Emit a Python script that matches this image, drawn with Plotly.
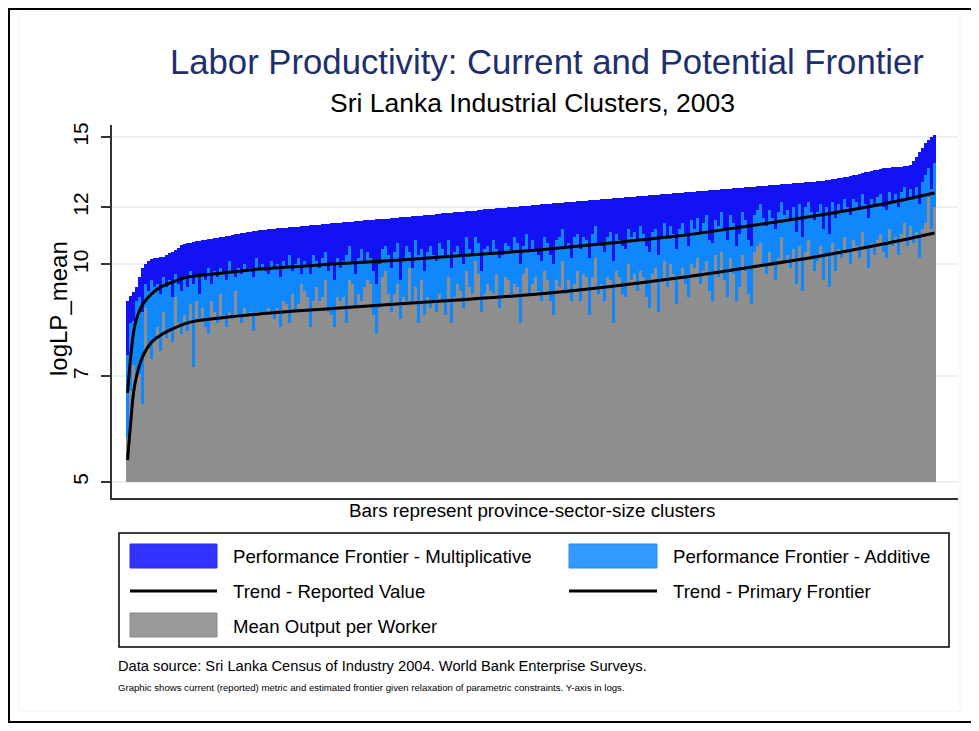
import plotly.graph_objects as go

# bars are sorted by the multiplicative frontier
frontier_mult = [
    8.90, 9.05, 9.15, 9.30, 9.62, 9.90, 10.02, 10.10, 10.17, 10.20,
    10.22, 10.24, 10.25, 10.30, 10.36, 10.40, 10.48, 10.55, 10.62, 10.66,
    10.70, 10.72, 10.73, 10.76, 10.78, 10.80, 10.82, 10.83, 10.85, 10.87,
    10.89, 10.90, 10.92, 10.94, 10.96, 10.98, 11.00, 11.02, 11.04, 11.06,
    11.08, 11.10, 11.12, 11.13, 11.15, 11.16, 11.17, 11.18, 11.19, 11.20,
    11.21, 11.22, 11.23, 11.24, 11.25, 11.26, 11.27, 11.28, 11.29, 11.30,
    11.31, 11.32, 11.33, 11.34, 11.35, 11.36, 11.37, 11.38, 11.39, 11.40,
    11.41, 11.42, 11.43, 11.44, 11.45, 11.46, 11.47, 11.48, 11.49, 11.50,
    11.51, 11.52, 11.53, 11.54, 11.55, 11.56, 11.56, 11.57, 11.58, 11.59,
    11.60, 11.61, 11.62, 11.63, 11.64, 11.65, 11.66, 11.67, 11.68, 11.69,
    11.70, 11.71, 11.72, 11.73, 11.74, 11.76, 11.77, 11.78, 11.79, 11.80,
    11.81, 11.82, 11.83, 11.84, 11.85, 11.86, 11.87, 11.88, 11.90, 11.91,
    11.92, 11.93, 11.94, 11.95, 11.96, 11.97, 11.98, 11.99, 12.00, 12.01,
    12.02, 12.03, 12.04, 12.05, 12.06, 12.07, 12.08, 12.09, 12.10, 12.11,
    12.12, 12.13, 12.14, 12.15, 12.16, 12.17, 12.18, 12.19, 12.20, 12.21,
    12.22, 12.23, 12.24, 12.25, 12.26, 12.27, 12.28, 12.29, 12.30, 12.31,
    12.32, 12.33, 12.34, 12.35, 12.36, 12.37, 12.38, 12.39, 12.40, 12.41,
    12.42, 12.43, 12.44, 12.45, 12.46, 12.47, 12.48, 12.49, 12.50, 12.51,
    12.52, 12.53, 12.54, 12.55, 12.56, 12.57, 12.58, 12.59, 12.60, 12.61,
    12.62, 12.63, 12.64, 12.65, 12.66, 12.67, 12.68, 12.69, 12.70, 12.71,
    12.72, 12.73, 12.74, 12.75, 12.76, 12.77, 12.78, 12.79, 12.80, 12.81,
    12.82, 12.83, 12.84, 12.85, 12.86, 12.87, 12.88, 12.89, 12.90, 12.91,
    12.92, 12.93, 12.94, 12.95, 12.96, 12.97, 12.98, 12.99, 13.00, 13.01,
    13.02, 13.04, 13.06, 13.08, 13.10, 13.12, 13.14, 13.16, 13.18, 13.20,
    13.22, 13.25, 13.28, 13.30, 13.33, 13.36, 13.40, 13.44, 13.48, 13.50,
    13.52, 13.54, 13.57, 13.60, 13.61, 13.62, 13.63, 13.64, 13.65, 13.66,
    13.68, 13.72, 13.90, 14.08, 14.30, 14.50, 14.70, 14.85, 15.00, 15.10,
]

frontier_add = [
    7.5, 8.3, 8.35, 8.9, 9.0, 8.6, 9.4, 9.2, 9.5, 9.3,
    9.4, 9.1, 9.6, 9.3, 9.5, 9.0, 9.7, 9.4, 9.2, 9.6,
    9.3, 9.8, 9.4, 9.6, 9.1, 9.7, 9.5, 9.9, 9.4, 9.8,
    9.6, 9.9, 9.7, 9.5, 10.1, 9.8, 9.6, 9.9, 9.7, 10.0,
    9.8, 9.9, 9.6, 10.2, 9.9, 10.0, 9.8, 9.7, 10.1, 9.9,
    10.0, 9.6, 10.1, 9.9, 10.3, 9.8, 10.0, 10.2, 9.7, 10.1,
    10.0, 9.7, 10.3, 10.1, 9.9, 10.2, 10.4, 9.8, 10.0, 9.5,
    10.2, 9.9, 10.1, 10.3, 10.6, 10.0, 9.7, 10.2, 10.5, 10.1,
    10.4, 10.2, 9.8, 9.4, 10.0, 10.5, 10.6, 10.3, 9.9, 10.4,
    10.7, 9.5, 10.2, 10.6, 10.4, 9.9, 10.8, 10.3, 10.5, 9.8,
    10.4, 10.6, 10.3, 10.1, 10.7, 10.5, 10.2, 10.8, 9.9, 10.4,
    10.6, 10.3, 10.0, 10.9, 10.5, 10.3, 10.9, 10.7, 9.8, 10.5,
    10.6, 10.4, 10.8, 10.5, 10.2, 10.3, 10.7, 10.6, 10.4, 10.9,
    10.7, 10.0, 10.6, 11.0, 10.4, 10.8, 10.5, 10.3, 10.1, 10.9,
    10.7, 10.3, 10.0, 10.8, 10.9, 11.2, 10.5, 10.7, 10.2, 10.9,
    11.0, 10.5, 10.9, 10.8, 10.2, 11.0, 11.3, 10.7, 10.6, 10.4,
    10.9, 11.1, 10.1, 11.0, 10.8, 10.6, 10.5, 11.2, 10.9, 11.1,
    10.8, 11.3, 11.0, 10.6, 10.4, 11.1, 11.2, 10.3, 10.9, 11.4,
    10.9, 11.3, 11.0, 10.5, 11.2, 11.4, 11.0, 10.6, 11.5, 11.2,
    11.6, 11.1, 11.4, 11.7, 10.8, 10.7, 11.5, 11.3, 11.8, 11.2,
    10.8, 11.7, 11.4, 10.6, 11.0, 11.8, 11.5, 10.8, 10.6, 11.7,
    11.9, 12.1, 11.6, 11.3, 11.9, 11.6, 11.2, 11.8, 12.2, 11.7,
    11.9, 11.5, 12.0, 11.1, 12.1, 10.9, 12.0, 12.2, 11.8, 11.5,
    11.8, 12.1, 11.2, 12.0, 11.0, 12.2, 11.6, 12.1, 11.9, 12.3,
    12.0, 11.7, 12.3, 12.2, 11.9, 12.5, 12.1, 11.6, 12.3, 12.0,
    12.4, 12.5, 12.0, 11.9, 12.6, 12.2, 12.5, 12.0, 12.6, 12.8,
    12.3, 12.7, 12.4, 12.8, 12.1, 13.0, 13.3, 13.6, 12.7, 13.8,
]

mean_output = [
    5.77, 6.68, 7.25, 7.0, 7.05, 6.4, 8.7, 7.66, 7.4, 7.9,
    8.2, 7.6, 8.6, 7.9, 8.1, 7.8, 9.0, 8.3, 8.0, 8.5,
    8.1, 8.8, 7.2, 8.9, 8.4, 8.7, 8.2, 8.0, 8.9, 8.6,
    8.3, 9.1, 8.5, 8.2, 8.6, 8.4, 9.2, 8.5, 8.3, 8.7,
    8.5, 8.6, 8.1, 8.6, 8.6, 8.5, 8.6, 8.7, 8.6, 8.4,
    8.7, 8.2, 8.9, 8.8, 8.3, 9.1, 8.6, 8.8, 9.4, 9.2,
    9.0, 8.2, 8.9, 9.3, 8.9, 9.0, 9.5, 8.6, 8.5, 8.2,
    9.0, 8.9, 9.0, 8.3, 9.5, 9.4, 8.7, 9.1, 8.9, 9.3,
    9.5, 9.4, 8.5, 8.0, 8.7, 9.6, 9.8, 9.1, 8.6, 9.1,
    9.4, 8.4, 9.0, 8.9, 9.9, 8.8, 9.3, 8.3, 9.5, 8.5,
    9.0, 8.7, 8.9, 8.6, 9.1, 8.9, 8.5, 9.6, 8.3, 9.0,
    9.4, 9.2, 8.7, 9.8, 9.3, 9.1, 10.1, 9.7, 8.6, 9.1,
    9.4, 9.2, 9.1, 9.7, 8.7, 9.0, 9.6, 9.5, 9.0, 9.4,
    9.3, 8.3, 9.7, 9.9, 9.1, 9.4, 9.6, 9.2, 8.9, 9.8,
    9.5, 8.9, 8.5, 9.5, 9.3, 10.1, 9.1, 9.5, 8.9, 9.4,
    9.8, 8.9, 9.7, 9.6, 8.5, 9.6, 10.2, 9.1, 9.4, 8.9,
    9.6, 9.5, 8.3, 9.8, 9.6, 9.1, 9.0, 10.0, 9.5, 9.7,
    9.2, 9.8, 9.6, 9.0, 8.7, 9.7, 9.9, 8.6, 9.5, 10.1,
    9.3, 10.0, 9.7, 8.8, 9.6, 9.9, 9.4, 9.0, 10.0, 9.9,
    10.2, 9.4, 9.8, 10.1, 9.2, 8.9, 10.3, 9.6, 10.4, 9.5,
    9.0, 10.2, 9.7, 8.9, 9.3, 10.3, 9.8, 9.1, 8.8, 10.4,
    10.6, 10.7, 10.0, 9.7, 10.4, 10.0, 9.5, 10.2, 10.9, 10.1,
    10.3, 9.9, 10.5, 9.4, 10.6, 9.2, 10.4, 10.8, 10.2, 9.8,
    10.1, 10.6, 9.5, 10.3, 9.3, 10.7, 9.8, 10.5, 10.2, 10.9,
    10.4, 10.0, 10.8, 10.6, 10.2, 11.1, 10.5, 9.9, 10.7, 10.3,
    10.8, 11.0, 10.4, 10.2, 11.2, 10.6, 10.9, 10.3, 11.0, 11.4,
    10.6, 11.3, 10.7, 11.1, 10.2, 11.2, 11.4, 12.4, 11.2, 12.0,
]

clusters = list(range(len(frontier_mult)))

trend_x = [0, 1, 2, 3, 5, 8, 11, 20, 31, 44, 67, 91, 114, 137, 161, 184, 207, 231, 251, 269]
trend_primary = [6.64, 7.4, 8.04, 8.4, 8.79, 9.1, 9.3, 9.6, 9.72, 9.85,
                 10.0, 10.14, 10.3, 10.47, 10.7, 10.95, 11.3, 11.7, 12.1, 12.55]
trend_reported = [5.36, 6.0, 6.64, 7.0, 7.45, 7.8, 7.98, 8.3, 8.43, 8.54,
                  8.68, 8.82, 8.95, 9.1, 9.32, 9.58, 9.9, 10.27, 10.65, 11.05]

y_ticks = [5, 7, 10, 12, 15]
bar_base = 5

# page body adds an 8px offset, so the figure is a bit smaller than the window
OFF = 8
W, H = 979 - OFF, 731 - OFF
# plot area in window pixels
PX0, PX1, PY0, PY1 = 112, 958, 125, 498
PW, PH = PX1 - PX0, PY1 - PY0


def px(x):
    return (x - PX0) / PW


def py(y):
    return (PY1 - y) / PH


FONT = "Arial, Liberation Sans, sans-serif"

fig = go.Figure()
bar_specs = [
    (frontier_mult, "#1212f2", "Performance Frontier - Multiplicative"),
    (frontier_add, "#1088fc", "Performance Frontier - Additive"),
    (mean_output, "#8e8e8e", "Mean Output per Worker"),
]
for vals, col, name in bar_specs:
    fig.add_trace(go.Bar(
        x=clusters, y=[v - bar_base for v in vals], base=bar_base,
        name=name, marker=dict(color=col, line=dict(width=0)),
        showlegend=False))

fig.add_trace(go.Scatter(x=trend_x, y=trend_primary, mode="lines",
                         line=dict(color="black", width=3, shape="spline", smoothing=0.8),
                         name="Trend - Primary Frontier", showlegend=False))
fig.add_trace(go.Scatter(x=trend_x, y=trend_reported, mode="lines",
                         line=dict(color="black", width=3, shape="spline", smoothing=0.8),
                         name="Trend - Reported Value", showlegend=False))

fig.update_layout(
    width=W, height=H,
    margin=dict(l=PX0 - OFF, r=W - (PX1 - OFF), t=PY0 - OFF, b=H - (PY1 - OFF)),
    barmode="overlay", bargap=0,
    paper_bgcolor="white", plot_bgcolor="white",
    font=dict(family=FONT, color="black"),
)
fig.update_xaxes(range=[(PX0 - 127.5) / 3, (PX1 - 127.5) / 3],
                 showticklabels=False, ticks="", showgrid=False, zeroline=False,
                 showline=True, linecolor="#333333", linewidth=1.5)
fig.update_yaxes(type="log", range=[0.67684, 1.19271],
                 tickvals=y_ticks, ticktext=[str(t) for t in y_ticks],
                 tickangle=-90, tickfont=dict(size=21), ticklabelstandoff=5,
                 ticks="outside", ticklen=9, tickcolor="#333333", tickwidth=1.5,
                 showgrid=True, gridcolor="#e8f0f2", gridwidth=2,
                 zeroline=False, showline=True, linecolor="#333333", linewidth=1.5)

annotations = [
    dict(x=px(547), y=py(62), text="Labor Productivity: Current and Potential Frontier",
         font=dict(size=34.7, color="#1e2f6e")),
    dict(x=px(532), y=py(103), text="Sri Lanka Industrial Clusters, 2003",
         font=dict(size=26.5)),
    dict(x=px(532), y=py(510), text="Bars represent province-sector-size clusters",
         font=dict(size=18.8)),
    dict(x=px(58), y=py(309), text="logLP_mean", textangle=-90,
         font=dict(size=24)),
]
legend_rows = [
    (231, 556, "Performance Frontier - Multiplicative"),
    (671, 556, "Performance Frontier - Additive"),
    (231, 591, "Trend - Reported Value"),
    (671, 591, "Trend - Primary Frontier"),
    (231, 626, "Mean Output per Worker"),
]
for x, y, txt in legend_rows:
    annotations.append(dict(x=px(x), y=py(y), text=txt, xanchor="left",
                            font=dict(size=18.6)))
annotations.append(dict(x=px(116), y=py(666),
                        text="Data source: Sri Lanka Census of Industry 2004. World Bank Enterprise Surveys.",
                        xanchor="left", font=dict(size=14.7)))
annotations.append(dict(x=px(116), y=py(687),
                        text="Graphic shows current (reported) metric and estimated frontier given relaxation of parametric constraints. Y-axis in logs.",
                        xanchor="left", font=dict(size=9.6)))
for a in annotations:
    a.update(xref="paper", yref="paper", showarrow=False, yanchor="middle")
    a.setdefault("xanchor", "center")
fig.update_layout(annotations=annotations)


def rect(x0, y0, x1, y1, **kw):
    return dict(type="rect", xref="paper", yref="paper",
                x0=px(x0), x1=px(x1), y0=py(y0), y1=py(y1), **kw)


def hline(x0, x1, y, **kw):
    return dict(type="line", xref="paper", yref="paper",
                x0=px(x0), x1=px(x1), y0=py(y), y1=py(y), **kw)


shapes = [
    rect(9, 9, 972, 722, line=dict(color="black", width=2)),
    rect(19, 15, 960, 711, line=dict(color="#eef4f4", width=1)),
    rect(119, 533, 949, 647, line=dict(color="black", width=1.5)),
    rect(130, 544, 217, 568, fillcolor="#3333ff", line=dict(color="#2a2ae0", width=1)),
    rect(569, 544, 657, 568, fillcolor="#3399ff", line=dict(color="#2a88e8", width=1)),
    hline(130, 217, 591, line=dict(color="black", width=3)),
    hline(569, 657, 591, line=dict(color="black", width=3)),
    rect(130, 613, 217, 637, fillcolor="#999999", line=dict(color="#888888", width=1)),
]
fig.update_layout(shapes=shapes)

fig.write_html("out.html")
